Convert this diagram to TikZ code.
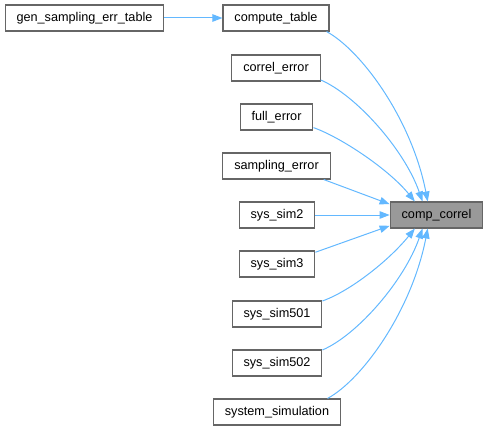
\documentclass[tikz,border=0pt]{standalone}
\usepackage{fontspec}
\setmainfont{Liberation Sans}
\usetikzlibrary{arrows.meta}
\definecolor{edgeblue}{HTML}{63B8FF}
\definecolor{boxgrey}{HTML}{666666}
\definecolor{focusfill}{HTML}{999999}
\newcommand{\cgfont}{\fontsize{9.5}{11}\selectfont}
\tikzset{
  callgraph/.style={font=\cgfont, x=0.75pt, y=-0.75pt},
  % a function box
  fnode/.style={draw=boxgrey, line width=0.8pt, rectangle, inner xsep=8.6pt,
                inner ysep=0pt, minimum height=19.5pt,
                text height=6.9pt, text depth=2pt},
  % the function whose callers are shown
  fnodeh/.style={fnode, fill=focusfill},
  % a call, drawn from caller to callee
  call/.style={draw=edgeblue, line width=0.75pt,
               -{Triangle[length=7.5pt,width=5.6pt]}},
}
\newcommand{\fn}[4]{\node[fnode] (#1) at (#2,#3) {#4};}
\newcommand{\cl}[2]{\draw[call] (#1) -- (#2);}
\newcommand{\clc}[4]{\draw[call] (#1) .. controls #3 and #4 .. (#2);}

\begin{document}
\begin{tikzpicture}[callgraph]
  \useasboundingbox (0,0) rectangle (488,431);
  % callee on the right, callers in one column
  \node[fnodeh] (cc) at (436.5,215) {comp\_correl};
  \fn{gen}{84.5}{18}{gen\_sampling\_err\_table}
  \fn{ct}{276}{18}{compute\_table}
  \fn{ce}{276}{68}{correl\_error}
  \fn{fe}{276.5}{117}{full\_error}
  \fn{se}{276.5}{166}{sampling\_error}
  \fn{s2}{277}{215}{sys\_sim2}
  \fn{s3}{277}{264}{sys\_sim3}
  \fn{s501}{277}{314}{sys\_sim501}
  \fn{s502}{277}{363}{sys\_sim502}
  \fn{ssim}{277}{412}{system\_simulation}

  \cl{gen}{ct}
  \clc{ct.345}{cc.123}{+(35,19)}{+(-16,-82)}
  \clc{ce.345}{cc.136}{+(35,15)}{+(-18,-52)}
  \clc{fe.344}{cc.148}{+(28,10)}{+(-26,-32)}
  \cl{se.344}{cc.167}
  \cl{s2}{cc}
  \cl{s3.17}{cc.193}
  \clc{s501.16}{cc.212}{+(28,-10)}{+(-26,32)}
  \clc{s502.16}{cc.224}{+(35,-15)}{+(-18,52)}
  \clc{ssim.15}{cc.237}{+(35,-19)}{+(-16,82)}
\end{tikzpicture}
\end{document}
